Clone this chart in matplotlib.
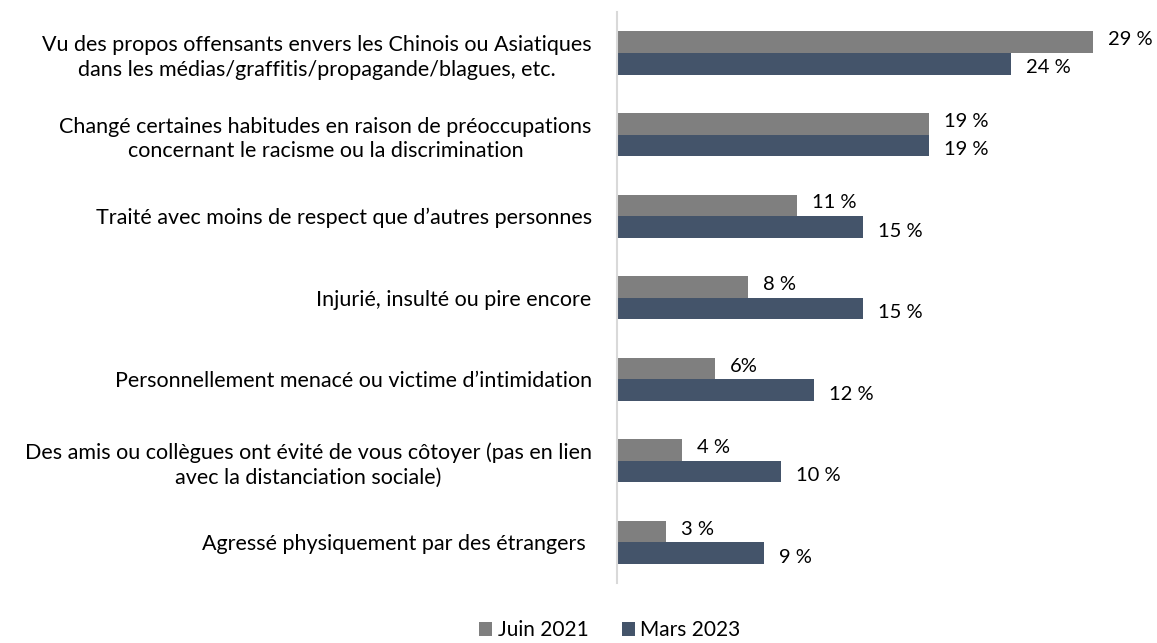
import numpy as np
import matplotlib.pyplot as plt

plt.rcParams['font.family'] = ['Lato', 'DejaVu Sans']

categories = [
    "Vu des propos offensants envers les Chinois ou Asiatiques\ndans les médias/graffitis/propagande/blagues, etc.",
    "Changé certaines habitudes en raison de préoccupations\nconcernant le racisme ou la discrimination",
    "Traité avec moins de respect que d\u2019autres personnes",
    "Injurié, insulté ou pire encore",
    "Personnellement menacé ou victime d\u2019intimidation",
    "Des amis ou collègues ont évité de vous côtoyer (pas en lien\navec la distanciation sociale)",
    "Agressé physiquement par des étrangers ",
]
juin_2021 = [29, 19, 11, 8, 6, 4, 3]
mars_2023 = [24, 19, 15, 15, 12, 10, 9]
labels_juin = ["29 %", "19 %", "11 %", "8 %", "6%", "4 %", "3 %"]
labels_mars = ["24 %", "19 %", "15 %", "15 %", "12 %", "10 %", "9 %"]

gris = "#7f7f7f"
bleu = "#44546a"

fig = plt.figure(figsize=(11.57, 6.43), dpi=100)
ax = fig.add_axes([0.533, 0.093, 0.467, 0.888])

y = np.arange(len(categories))
h = 0.265
ax.barh(y - h / 2, juin_2021, height=h, color=gris, label="Juin 2021")
ax.barh(y + h / 2, mars_2023, height=h, color=bleu, label="Mars 2023")

for i in range(len(categories)):
    ax.text(juin_2021[i] + 0.9, y[i] - h / 2 - 0.03, labels_juin[i], va="center", ha="left",
            fontsize=14.5, color="#000000")
    ax.text(mars_2023[i] + 0.9, y[i] + h / 2 + 0.05, labels_mars[i], va="center", ha="left",
            fontsize=14.5, color="#000000")

ax.set_xlim(0, 32.9)
ax.set_ylim(6.5, -0.5)
ax.set_yticks(y)
ax.set_yticklabels(categories, fontsize=15.5, multialignment="center", linespacing=1.3)
ax.tick_params(axis="y", length=0, pad=18)
ax.set_xticks([])
for s in ["top", "right", "bottom"]:
    ax.spines[s].set_visible(False)
ax.spines["left"].set_color("#d9d9d9")
ax.spines["left"].set_linewidth(1.5)

fig.legend(loc="lower center", bbox_to_anchor=(0.527, -0.025), ncol=2, frameon=False,
           fontsize=15, handlelength=0.65, handleheight=0.65, handletextpad=0.25,
           columnspacing=1.6)

fig.savefig("out.png", dpi=100)
